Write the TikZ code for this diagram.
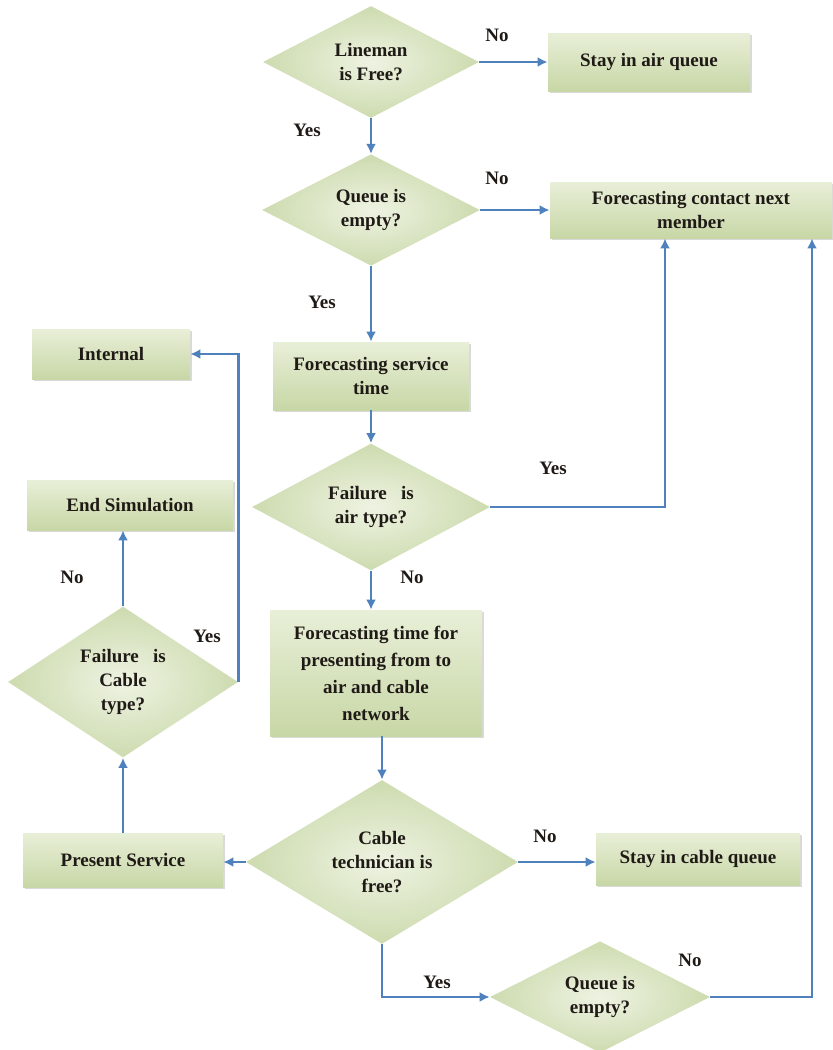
\documentclass[tikz,border=0pt]{standalone}
\usepackage{fontspec}
\setmainfont{Liberation Serif}
\usetikzlibrary{shapes.geometric,arrows.meta,shadows}
\definecolor{flow}{HTML}{4F81BD}
\definecolor{gtop}{HTML}{E8EFD8}
\definecolor{gbot}{HTML}{C8D7A6}
\definecolor{dinner}{HTML}{EEF3E2}
\definecolor{douter}{HTML}{CDDBAF}
\definecolor{txt}{HTML}{201A16}
\tikzset{
  base/.style={font=\fontsize{9.5}{12}\selectfont\bfseries, text=txt, align=center},
  box/.style={base, rectangle, draw=none, top color=gtop, bottom color=gbot,
    drop shadow={shadow xshift=0.8pt, shadow yshift=-0.8pt, opacity=0.3}, inner sep=2pt},
  dia/.style={base, diamond, draw=none, inner sep=0pt, inner color=dinner, outer color=douter},
  lab/.style={base, inner sep=1pt},
  flowline/.style={draw=flow, line width=1.45pt, -{Latex[length=5pt,width=5pt]}},
}
\begin{document}
\begin{tikzpicture}[x=0.5pt,y=-0.5pt]
\useasboundingbox (0,0) rectangle (832,1050);
% decisions
\node[dia, minimum width=108pt, minimum height=56pt] (d1) at (371,62) {Lineman\\is Free?};
\node[dia, minimum width=109pt, minimum height=52pt] (d2) at (371,210) {Queue is\\empty?};
\node[dia, minimum width=119pt, minimum height=54pt] (d3) at (371,507) {Failure~~~is\\air type?};
\node[dia, minimum width=136pt, minimum height=82pt] (d4) at (382,862) {Cable\\technician is\\free?};
\node[dia, minimum width=110pt, minimum height=52pt] (d5) at (600,997) {Queue is\\empty?};
\node[dia, minimum width=115pt, minimum height=70pt] (d6) at (123,682) {Failure~~~is\\Cable\\type?};
% boxes
\node[box, minimum width=101pt, minimum height=29pt] (airq) at (649,62) {Stay in air queue};
\node[box, minimum width=141pt, minimum height=28pt] (contact) at (691,210) {Forecasting contact next\\member};
\node[box, minimum width=98pt, minimum height=34pt] (serv) at (371,376) {Forecasting service\\time};
\node[box, minimum width=106pt, minimum height=63pt, font=\fontsize{9.5}{13.5}\selectfont\bfseries] (tbox) at (376,673) {Forecasting time for\\presenting from to\\air and cable\\network};
\node[box, minimum width=100pt, minimum height=27pt] (present) at (123,860) {Present Service};
\node[box, minimum width=102pt, minimum height=26pt] (cableq) at (698,859) {Stay in cable queue};
\node[box, minimum width=103pt, minimum height=25pt] (endsim) at (130,505) {End Simulation};
\node[box, minimum width=79pt, minimum height=25pt] (internal) at (111,354) {Internal};
% labels
\node[lab] (no1) at (497,35) {No};
\node[lab] (yes1) at (307,130) {Yes};
\node[lab] (no2) at (497,178) {No};
\node[lab] (yes2) at (322,302) {Yes};
\node[lab] (yes3) at (553,468) {Yes};
\node[lab] (no3) at (412,577) {No};
\node[lab] (no4) at (545,836) {No};
\node[lab] (yes4) at (437,982) {Yes};
\node[lab] (no5) at (690,960) {No};
\node[lab] (no6) at (72,577) {No};
\node[lab] (yes6) at (207,636) {Yes};
% helper coordinates
\coordinate (c1) at (665,507);
\coordinate (c3) at (812,997);
% connectors
\draw[flowline] (d1.east) -- (d1.east -| airq.west);
\draw[flowline] (d1.south) -- (d2.north);
\draw[flowline] (d2.east) -- (d2.east -| contact.west);
\draw[flowline] (d2.south) -- (serv.north);
\draw[flowline] (serv.south) -- (d3.north);
\draw[flowline] (d3.east) -- (c1) -- (c1 |- contact.south);
\draw[flowline] (d3.south) -- (d3.south |- tbox.north);
\draw[flowline] (d4.north |- tbox.south) -- (d4.north);
\draw[flowline] (d4.west) -- (d4.west -| present.east);
\draw[flowline] (d4.east) -- (d4.east -| cableq.west);
\draw[flowline] (d4.south) |- (d5.west);
\draw[flowline] (d5.east) -- (c3) -- (c3 |- contact.south);
\draw[flowline] (present.north) -- (d6.south);
\draw[flowline] (d6.north) -- (d6.north |- endsim.south);
\draw[flowline] (d6.east) |- (internal.east);
\end{tikzpicture}
\end{document}
